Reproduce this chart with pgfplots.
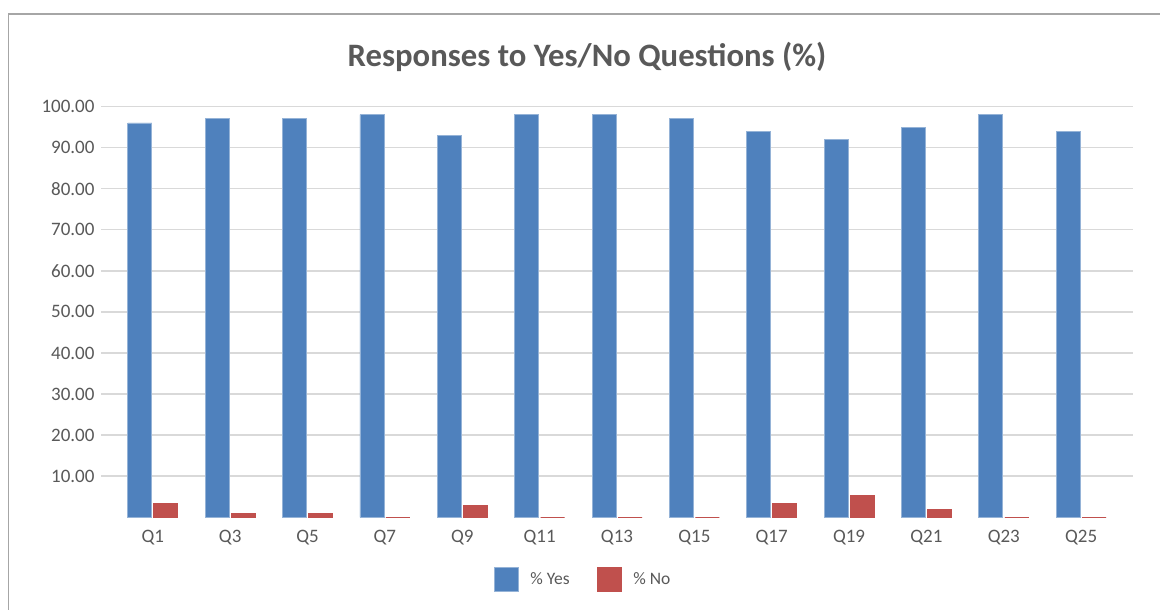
\documentclass[border=0pt]{standalone}
\usepackage{fontspec}
\setmainfont{Carlito}
\usepackage{pgfplots}
\pgfplotsset{compat=1.18}
\definecolor{yesblue}{HTML}{4F81BD}
\definecolor{nored}{HTML}{C0504D}
\definecolor{txt}{HTML}{595959}
\definecolor{gridc}{HTML}{D9D9D9}
\definecolor{framec}{HTML}{A6A6A6}
\begin{document}
\begin{tikzpicture}[x=1bp,y=1bp]
\useasboundingbox (0,0) rectangle (1160,610);
\fill[white] (0,0) rectangle (1160,610);
\begin{scope}
\clip (0,0) rectangle (1160,610);
\draw[framec, line width=1.5bp] (8.3,-20) rectangle (1180,596);
\end{scope}
\node[anchor=base, font=\fontsize{32.7bp}{36bp}\selectfont\bfseries, text=txt, inner sep=0] at (587,543) {Responses to Yes/No Questions (\%)};
\begin{axis}[
  at={(101bp,92.7bp)}, anchor=south west,
  scale only axis, width=1032bp, height=410.8bp,
  xmin=-0.67, xmax=12.67, ymin=0, ymax=100,
  ybar=2bp, bar width=24bp,
  axis line style={draw=none}, tick style={draw=none},
  ytick={10,20,...,100}, ymajorgrids, grid style={gridc, line width=1.5bp},
  xtick={0,...,12},
  xticklabels={Q1,Q3,Q5,Q7,Q9,Q11,Q13,Q15,Q17,Q19,Q21,Q23,Q25},
  ticklabel style={font=\fontsize{19bp}{22bp}\selectfont, text=txt},
  yticklabel style={/pgf/number format/fixed, /pgf/number format/fixed zerofill, /pgf/number format/precision=2, /pgf/number format/assume math mode=true, xshift=-3bp},
  xticklabel style={yshift=-5bp},
  legend style={at={(0.467,-0.150)}, anchor=center, draw=none, fill=none,
    legend columns=2, font=\fontsize{17.5bp}{20bp}\selectfont, text=txt,
    /tikz/every even column/.append style={column sep=25bp}},
  legend image code/.code={\fill[#1] (0bp,-12bp) rectangle (24bp,12bp); \path (34bp,0bp);},
]
\addplot[fill=yesblue, draw=yesblue!60!white, line width=0.75bp] coordinates {(0,96)(1,97)(2,97)(3,98)(4,93)(5,98)(6,98)(7,97)(8,94)(9,92)(10,95)(11,98)(12,94)};
\addplot[fill=nored, draw=nored, line width=0.75bp] coordinates {(0,3.4)(1,1.0)(2,1.0)(3,0)(4,2.9)(5,0)(6,0)(7,0)(8,3.4)(9,5.3)(10,2.0)(11,0)(12,0)};
\legend{\% Yes, \% No}
\end{axis}
\end{tikzpicture}
\end{document}
